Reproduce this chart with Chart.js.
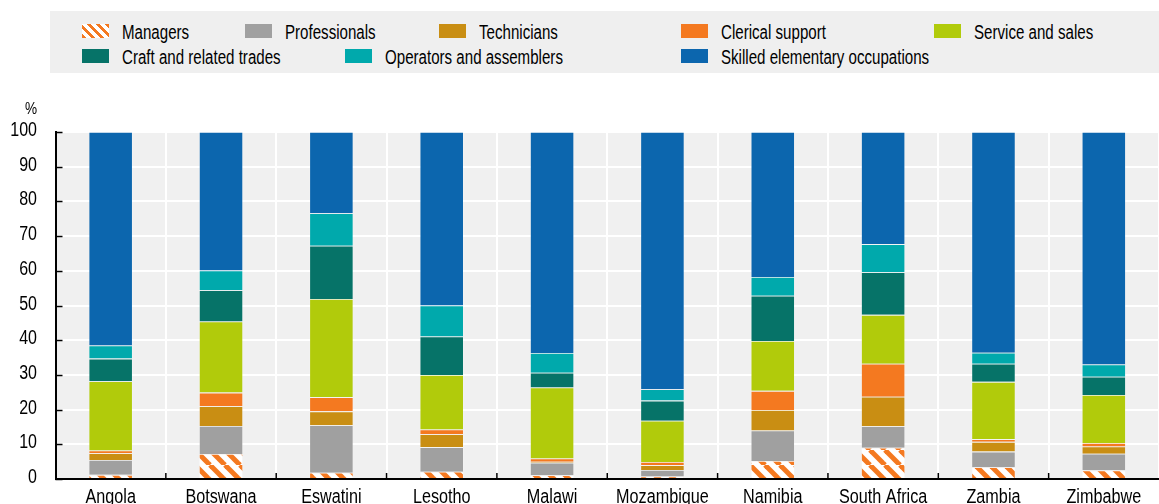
<!DOCTYPE html>
<html>
<head>
<meta charset="utf-8">
<script src="https://cdn.jsdelivr.net/npm/chart.js@4.4.1/dist/chart.umd.min.js"></script>
<style>
  html, body { margin: 0; padding: 0; background: #fff; }
  #wrap { position: relative; width: 1159px; height: 504px; overflow: hidden; }
  canvas { position: absolute; left: 0; top: 0; }
  .ff { font-family: 'Liberation Sans', Arial, sans-serif; color: #000; }
  #legend { position: absolute; left: 50px; top: 11px; width: 1109px; height: 62px; background: #EFEFEF; }
  .item { position: absolute; height: 20px; }
  .sw { position: absolute; left: 0; width: 27px; height: 14px; top: 3px; }
  .lt { position: absolute; left: 40px; top: 1px; font-size: 20px; line-height: 20px; white-space: nowrap;
        transform: scaleX(0.755); transform-origin: 0 50%; }
  #pct { position: absolute; left: 25px; top: 99px; font-size: 17px; line-height: 20px; transform: scaleX(0.8); transform-origin: 0 50%; }
</style>
</head>
<body>
<div id="wrap">
  <canvas id="c" width="1159" height="504"></canvas>
  <div id="legend" class="ff"></div>
  <div id="pct" class="ff">%</div>
</div>
<script>
const categories = ['Angola','Botswana','Eswatini','Lesotho','Malawi','Mozambique','Namibia','South Africa','Zambia','Zimbabwe'];
const seriesNames = ['Managers','Professionals','Technicians','Clerical support','Service and sales','Craft and related trades','Operators and assemblers','Skilled elementary occupations'];
const managers      = [1.2, 7.2, 1.8, 2.1, 1.1, 0.7, 5.2, 9.0, 3.4, 2.5];
const professionals = [4.3, 8.1, 13.7, 7.1, 3.6, 1.9, 8.8, 6.2, 4.5, 4.8];
const technicians   = [1.9, 5.7, 4.0, 3.7, 0.3, 1.4, 5.9, 8.5, 2.8, 2.1];
const clerical      = [0.8, 3.9, 4.1, 1.4, 0.9, 0.9, 5.5, 9.5, 0.8, 1.0];
const serviceSales  = [20.0, 20.5, 28.3, 15.7, 20.5, 11.9, 14.4, 14.1, 16.5, 13.8];
const craft         = [6.5, 9.0, 15.3, 11.1, 4.2, 5.8, 13.0, 12.3, 5.2, 5.3];
const operators     = [3.8, 5.7, 9.4, 8.9, 5.7, 3.3, 5.4, 8.1, 3.2, 3.5];
const skilledElem   = [61.5, 39.9, 23.4, 50.0, 63.7, 74.1, 41.8, 32.3, 63.6, 67.0];
const yTicks = [0,10,20,30,40,50,60,70,80,90,100];

const colors = ['#F47920','#A0A0A0','#C98E13','#F47920','#B1CB0B','#067368','#00A9AC','#0C66AE'];
const FONT = "'Liberation Sans', Arial, sans-serif";

function makePattern() {
  const s = 15;
  const pc = document.createElement('canvas');
  pc.width = s; pc.height = s;
  const x = pc.getContext('2d');
  x.fillStyle = '#fff'; x.fillRect(0,0,s,s);
  x.strokeStyle = '#F47920'; x.lineWidth = 5;
  for (const k of [-s, 0, s]) {
    x.beginPath(); x.moveTo(k, 0); x.lineTo(k + s, s); x.stroke();
  }
  return document.getElementById('c').getContext('2d').createPattern(pc, 'repeat');
}
const pattern = makePattern();

const values = [managers, professionals, technicians, clerical, serviceSales, craft, operators, skilledElem];
const datasets = values.map((v, i) => ({
  label: seriesNames[i],
  data: v,
  backgroundColor: i === 0 ? pattern : colors[i],
  borderColor: 'rgba(255,255,255,0.25)',
  borderWidth: 0.8,
  barPercentage: 0.4,
  categoryPercentage: 1.0
}));

const legendPos = [
  [32, 10], [195, 10], [389, 10], [631, 10], [884, 10],
  [32, 35], [295, 35], [631, 35]
];
const leg = document.getElementById('legend');
seriesNames.forEach((n, i) => {
  const it = document.createElement('div');
  it.className = 'item';
  it.style.left = legendPos[i][0] + 'px';
  it.style.top = legendPos[i][1] + 'px';
  const sw = document.createElement('div');
  sw.className = 'sw';
  sw.style.background = i === 0
    ? 'repeating-linear-gradient(45deg, #F47920 0px, #F47920 3px, #fff 3px, #fff 6.4px)'
    : colors[i];
  const t = document.createElement('div');
  t.className = 'lt';
  t.textContent = n;
  it.appendChild(sw); it.appendChild(t);
  leg.appendChild(it);
});

const bgPlugin = {
  id: 'bg',
  beforeDraw(chart) {
    const a = chart.chartArea, ctx = chart.ctx;
    ctx.save();
    ctx.fillStyle = '#F0F0F0';
    ctx.fillRect(a.left, a.top, chart.width - a.left, a.bottom - a.top);
    ctx.restore();
  },
  afterDraw(chart) {
    const a = chart.chartArea, ctx = chart.ctx;
    const ys = chart.scales.y, xs = chart.scales.x;
    ctx.save();
    ctx.strokeStyle = '#000';
    ctx.lineWidth = 1.5;
    yTicks.forEach(v => {
      const y = Math.round(ys.getPixelForValue(v)) + 0.5;
      ctx.beginPath(); ctx.moveTo(a.left, y); ctx.lineTo(a.left + 7, y); ctx.stroke();
    });
    const n = categories.length;
    for (let i = 1; i < n; i++) {
      const xp = (xs.getPixelForValue(i - 1) + xs.getPixelForValue(i)) / 2;
      ctx.beginPath(); ctx.moveTo(xp, a.bottom); ctx.lineTo(xp, a.bottom - 6); ctx.stroke();
    }
    ctx.fillStyle = '#000';
    ctx.font = '20px ' + FONT;
    ctx.textAlign = 'right';
    ctx.textBaseline = 'middle';
    yTicks.forEach(v => {
      const y = ys.getPixelForValue(v) - 1.5;
      ctx.save(); ctx.translate(37, y); ctx.scale(0.8, 1); ctx.fillText(String(v), 0, 0); ctx.restore();
    });
    ctx.textAlign = 'center';
    ctx.textBaseline = 'alphabetic';
    categories.forEach((c, i) => {
      const xp = xs.getPixelForValue(i);
      ctx.save(); ctx.translate(xp, a.bottom + 23.5); ctx.scale(0.81, 1); ctx.fillText(c, 0, 0); ctx.restore();
    });
    ctx.restore();
  }
};

new Chart(document.getElementById('c'), {
  type: 'bar',
  data: { labels: categories, datasets },
  options: {
    responsive: false,
    devicePixelRatio: 1,
    animation: false,
    layout: { padding: { top: 132, left: 0, right: 0, bottom: 0 } },
    plugins: { legend: { display: false }, tooltip: { enabled: false } },
    scales: {
      x: {
        stacked: true,
        offset: true,
        grid: { color: '#FFFFFF', lineWidth: 2, drawTicks: false, offset: true },
        border: { color: '#000', width: 2 },
        ticks: { display: false },
        afterFit(s) { s.height = 25; }
      },
      y: {
        stacked: true,
        min: 0, max: 100,
        afterBuildTicks(s) { s.ticks = yTicks.map(v => ({ value: v })); },
        grid: { color: '#FFFFFF', lineWidth: 2, drawTicks: false },
        border: { color: '#000', width: 2 },
        ticks: { display: false },
        afterFit(s) { s.width = 55.5; }
      }
    }
  },
  plugins: [bgPlugin]
});
</script>
</body>
</html>
